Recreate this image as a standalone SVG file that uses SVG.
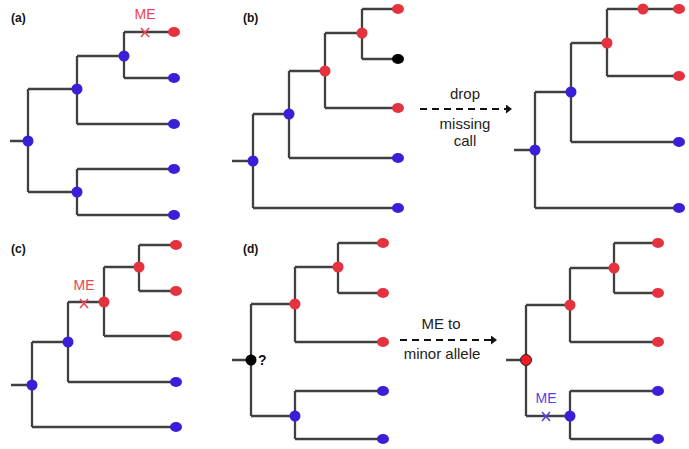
<svg xmlns="http://www.w3.org/2000/svg" width="689" height="449" viewBox="0 0 689 449">
<style>
.br{fill:none;stroke:#404040;stroke-width:2.3;stroke-linejoin:miter;stroke-linecap:butt}
.r{fill:#e5323f}
.b{fill:#3a1fd9}
.k{fill:#000}
.lab{font-family:"Liberation Sans",Arial,sans-serif;font-size:12px;font-weight:bold;fill:#111}
.me{font-family:"Liberation Sans",Arial,sans-serif;font-size:14px;text-anchor:middle}
.xr{stroke:#f04452;stroke-width:1.6;fill:none}
.xb{stroke:#5a40e6;stroke-width:1.6;fill:none}
.arr{stroke:#111;stroke-width:2;stroke-dasharray:7,5;fill:none}
.at{font-family:"Liberation Sans",Arial,sans-serif;font-size:15px;text-anchor:middle;fill:#222}
</style>
<defs>
<marker id="ah" markerWidth="6" markerHeight="9" refX="0" refY="4.5" orient="auto" markerUnits="userSpaceOnUse">
<path d="M0,0 L6,4.5 L0,9 Z" fill="#111"/>
</marker>
</defs>
<rect width="689" height="449" fill="#fff"/>

<g id="connectors">
<!-- (a) -->
<path class="br" d="M10,141 H28 M28,89 V192 M28,89 H77 M28,192 H77 M77,56 V124 M77,56 H124 M77,124 H174 M124,32 V78 M124,32 H174 M124,78 H174 M77,169 V215 M77,169 H174 M77,215 H174"/>
<!-- (b) left -->
<path class="br" d="M232,161 H253 M253,114 V208 M253,114 H289 M253,208 H398 M289,71 V158 M289,71 H325 M289,158 H398 M325,33 V108 M325,33 H362 M325,108 H398 M362,9 V59 M362,9 H398 M362,59 H398"/>
<!-- (b) right -->
<path class="br" d="M514,150 H535 M535,92 V208 M535,92 H571 M535,208 H679 M571,43 V142 M571,43 H607 M571,142 H679 M607,9 V76 M607,9 H679 M607,76 H679"/>
<!-- (c) -->
<path class="br" d="M11,385 H32 M32,342 V427 M32,342 H68 M32,427 H176 M68,302 V382 M68,302 H104 M68,382 H176 M104,267 V336 M104,267 H139 M104,336 H176 M139,245 V291 M139,245 H176 M139,291 H176"/>
<!-- (d) left -->
<path class="br" d="M232,360 H251 M251,304 V416 M251,304 H295 M251,416 H295 M295,267 V342 M295,267 H338 M295,342 H383 M338,243 V293 M338,243 H383 M338,293 H383 M295,391 V439 M295,391 H383 M295,439 H383"/>
<!-- (d) right -->
<path class="br" d="M506,360 H526 M526,305 V416 M526,305 H570 M526,416 H570 M570,268 V342 M570,268 H614 M570,342 H658 M614,243 V293 M614,243 H658 M614,293 H658 M570,391 V439 M570,391 H658 M570,439 H658"/>
<!-- arrows -->
<line class="arr" x1="420" y1="109" x2="506" y2="109" marker-end="url(#ah)"/>
<line class="arr" x1="400" y1="340" x2="491" y2="340" marker-end="url(#ah)"/>
</g>

<g id="panel-a">
<text class="lab" x="11" y="22">(a)</text>
<text class="me" x="145" y="19" fill="#f04452">ME</text>
<path class="xr" d="M141,28 L149,37 M149,28 L141,37"/>
<ellipse class="b" cx="28" cy="141" rx="5.5" ry="5.5"/>
<ellipse class="b" cx="77" cy="89" rx="5.5" ry="5.5"/>
<ellipse class="b" cx="77" cy="192" rx="5.5" ry="5.5"/>
<ellipse class="b" cx="124" cy="56" rx="5.5" ry="5.5"/>
<ellipse class="r" cx="174" cy="32" rx="6" ry="5"/>
<ellipse class="b" cx="174" cy="78" rx="6" ry="5"/>
<ellipse class="b" cx="174" cy="124" rx="6" ry="5"/>
<ellipse class="b" cx="174" cy="169" rx="6" ry="5"/>
<ellipse class="b" cx="174" cy="215" rx="6" ry="5"/>
</g>

<g id="panel-b-left">
<text class="lab" x="243" y="22">(b)</text>
<ellipse class="b" cx="253" cy="161" rx="5.5" ry="5.5"/>
<ellipse class="b" cx="289" cy="114" rx="5.5" ry="5.5"/>
<ellipse class="r" cx="325" cy="71" rx="5.5" ry="5.5"/>
<ellipse class="r" cx="362" cy="33" rx="5.5" ry="5.5"/>
<ellipse class="r" cx="398" cy="9" rx="6" ry="5"/>
<ellipse class="k" cx="398" cy="59" rx="6" ry="5"/>
<ellipse class="r" cx="398" cy="108" rx="6" ry="5"/>
<ellipse class="b" cx="398" cy="158" rx="6" ry="5"/>
<ellipse class="b" cx="398" cy="208" rx="6" ry="5"/>
</g>

<g id="arrow-b-label">
<text class="at" x="465" y="99">drop</text>
<text class="at" x="465" y="129">missing</text>
<text class="at" x="465" y="146">call</text>
</g>

<g id="panel-b-right">
<ellipse class="b" cx="535" cy="150" rx="5.5" ry="5.5"/>
<ellipse class="b" cx="571" cy="92" rx="5.5" ry="5.5"/>
<ellipse class="r" cx="607" cy="43" rx="5.5" ry="5.5"/>
<ellipse class="r" cx="643" cy="9" rx="5.5" ry="5.5"/>
<ellipse class="r" cx="679" cy="9" rx="6" ry="5"/>
<ellipse class="r" cx="679" cy="76" rx="6" ry="5"/>
<ellipse class="b" cx="679" cy="142" rx="6" ry="5"/>
<ellipse class="b" cx="679" cy="208" rx="6" ry="5"/>
</g>

<g id="panel-c">
<text class="lab" x="11" y="253">(c)</text>
<text class="me" x="84" y="290" fill="#f04452">ME</text>
<path class="xr" d="M80,299 L88,308 M88,299 L80,308"/>
<ellipse class="b" cx="32" cy="385" rx="5.5" ry="5.5"/>
<ellipse class="b" cx="68" cy="342" rx="5.5" ry="5.5"/>
<ellipse class="r" cx="104" cy="302" rx="5.5" ry="5.5"/>
<ellipse class="r" cx="139" cy="267" rx="5.5" ry="5.5"/>
<ellipse class="r" cx="176" cy="245" rx="6" ry="5"/>
<ellipse class="r" cx="176" cy="291" rx="6" ry="5"/>
<ellipse class="r" cx="176" cy="336" rx="6" ry="5"/>
<ellipse class="b" cx="176" cy="382" rx="6" ry="5"/>
<ellipse class="b" cx="176" cy="427" rx="6" ry="5"/>
</g>

<g id="panel-d-left">
<text class="lab" x="243" y="253">(d)</text>
<ellipse class="k" cx="251" cy="360" rx="5.5" ry="5.5"/>
<text class="lab" x="258" y="365" style="font-size:14px">?</text>
<ellipse class="r" cx="295" cy="304" rx="5.5" ry="5.5"/>
<ellipse class="b" cx="295" cy="416" rx="5.5" ry="5.5"/>
<ellipse class="r" cx="338" cy="267" rx="5.5" ry="5.5"/>
<ellipse class="r" cx="383" cy="243" rx="6" ry="5"/>
<ellipse class="r" cx="383" cy="293" rx="6" ry="5"/>
<ellipse class="r" cx="383" cy="342" rx="6" ry="5"/>
<ellipse class="b" cx="383" cy="391" rx="6" ry="5"/>
<ellipse class="b" cx="383" cy="439" rx="6" ry="5"/>
</g>

<g id="arrow-d-label">
<text class="at" x="441" y="329">ME to</text>
<text class="at" x="442" y="359">minor allele</text>
</g>

<g id="panel-d-right">
<ellipse cx="526" cy="360" rx="5.5" ry="5.5" fill="#f01c24" stroke="#222" stroke-width="1"/>
<ellipse class="r" cx="570" cy="305" rx="5.5" ry="5.5"/>
<ellipse class="b" cx="570" cy="416" rx="5.5" ry="5.5"/>
<ellipse class="r" cx="614" cy="268" rx="5.5" ry="5.5"/>
<text class="me" x="546" y="403" fill="#5a40e6">ME</text>
<path class="xb" d="M542,412 L550,421 M550,412 L542,421"/>
<ellipse class="r" cx="658" cy="243" rx="6" ry="5"/>
<ellipse class="r" cx="658" cy="293" rx="6" ry="5"/>
<ellipse class="r" cx="658" cy="342" rx="6" ry="5"/>
<ellipse class="b" cx="658" cy="391" rx="6" ry="5"/>
<ellipse class="b" cx="658" cy="439" rx="6" ry="5"/>
</g>
</svg>
